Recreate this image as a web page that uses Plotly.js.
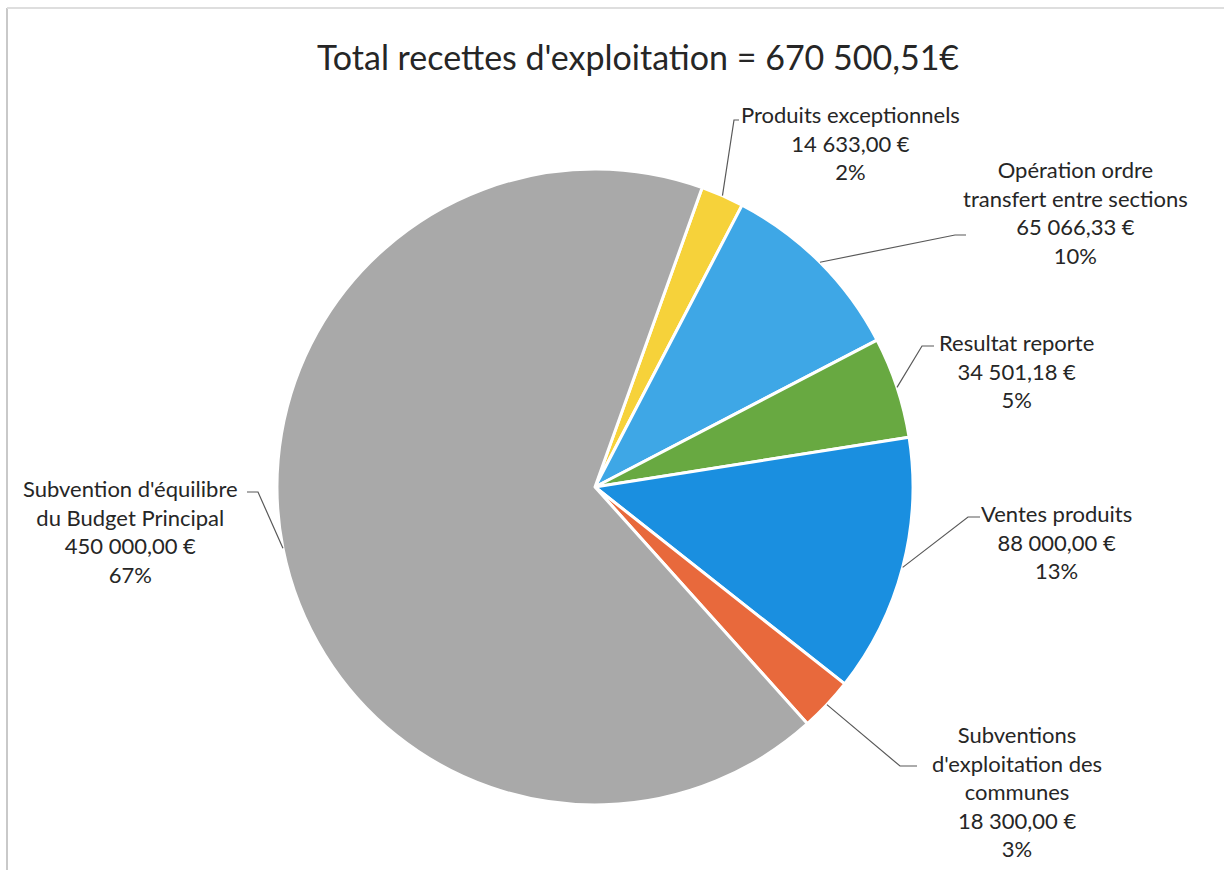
<!DOCTYPE html>
<html><head><meta charset="utf-8">
<script src="https://cdn.plot.ly/plotly-3.0.1.min.js"></script>
<style>html,body{margin:0;padding:0;background:#fff}</style>
</head><body><div id="chart" style="width:1224px;height:870px"></div>
<script>
// ---- data ----
const categories = [
  "Produits exceptionnels",
  "Opération ordre transfert entre sections",
  "Resultat reporte",
  "Ventes produits",
  "Subventions d'exploitation des communes",
  "Subvention d'équilibre du Budget Principal"
];
const categoryLabelLines = [
  ["Produits exceptionnels"],
  ["Opération ordre", "transfert entre sections"],
  ["Resultat reporte"],
  ["Ventes produits"],
  ["Subventions", "d'exploitation des", "communes"],
  ["Subvention d'équilibre", "du Budget Principal"]
];
const amounts = [14633.00, 65066.33, 34501.18, 88000.00, 18300.00, 450000.00];
const titleText = "Total recettes d'exploitation = 670 500,51€";

// ---- styles / layout ----
const sliceColors = ["#f6d23a", "#3ea7e6", "#68a941", "#1a8fe0", "#e8693c", "#a9a9a9"];
const W = 1224, H = 870;
const CX = 595, CY = 487, R = 318;
const ROTATION = 19.7;
const FONT = "Lato, 'Open Sans', sans-serif";
// label placement: text centre (px), elbow point (px), line end (px)
const labelPlacement = [
  {tx: 850,  ty: 143, ex: 734, ey: 120, fx: 739, fy: 120},
  {tx: 1075, ty: 213, ex: 955, ey: 235, fx: 966, fy: 235},
  {tx: 1016, ty: 371, ex: 922, ey: 346, fx: 934, fy: 346},
  {tx: 1056, ty: 542, ex: 968, ey: 517, fx: 980, fy: 517},
  {tx: 1017, ty: 791, ex: 900, ey: 766, fx: 917, fy: 766},
  {tx: 130,  ty: 531, ex: 258, ey: 492, fx: 247, fy: 492}
];

const px = x => x / W;
const py = y => 1 - y / H;

const total = amounts.reduce((a, b) => a + b, 0);
function fmtEuro(v) {
  const parts = v.toFixed(2).split(".");
  const intPart = parts[0].replace(/\B(?=(\d{3})+(?!\d))/g, " ");
  return intPart + "," + parts[1] + " €";
}
const percentLabels = amounts.map(v => Math.round(v / total * 100) + "%");

const trace = {
  type: "pie",
  labels: categories,
  values: amounts,
  sort: false,
  direction: "clockwise",
  rotation: ROTATION,
  textinfo: "none",
  hoverinfo: "label+value+percent",
  marker: {colors: sliceColors, line: {color: "#ffffff", width: 3}},
  domain: {x: [px(CX - R), px(CX + R)], y: [py(CY + R), py(CY - R)]},
  showlegend: false
};

const shapes = [
  {type: "line", xref: "paper", yref: "paper", x0: px(7), x1: px(7), y0: py(8), y1: py(870), line: {color: "#c9c9c9", width: 2}},
  {type: "line", xref: "paper", yref: "paper", x0: px(7), x1: px(1224), y0: py(8), y1: py(8), line: {color: "#dedede", width: 2}}
];
const annotations = [];
let cum = 0;
amounts.forEach((v, i) => {
  const mid = (ROTATION + (cum + v / 2) / total * 360) * Math.PI / 180;
  cum += v;
  const ax = CX + R * Math.sin(mid);
  const ay = CY - R * Math.cos(mid);
  const p = labelPlacement[i];
  shapes.push({
    type: "path", xref: "paper", yref: "paper",
    path: `M ${px(ax)},${py(ay)} L ${px(p.ex)},${py(p.ey)} L ${px(p.fx)},${py(p.fy)}`,
    line: {color: "#595959", width: 1.2}
  });
  const lines = categoryLabelLines[i].concat([fmtEuro(v), percentLabels[i]]);
  annotations.push({
    xref: "paper", yref: "paper", x: px(p.tx), y: py(p.ty),
    xanchor: "center", yanchor: "middle", showarrow: false, align: "center",
    text: lines.join("<br>"),
    font: {family: FONT, size: 22, color: "#262626"}
  });
});

const layout = {
  width: W, height: H,
  margin: {l: 0, r: 0, t: 0, b: 0},
  paper_bgcolor: "#ffffff",
  title: {text: titleText, x: px(638), xanchor: "center", y: py(58), yanchor: "middle", xref: "paper", yref: "paper",
          font: {family: FONT, size: 34, color: "#262626"}},
  shapes: shapes,
  annotations: annotations
};

Plotly.newPlot("chart", [trace], layout, {displayModeBar: false, staticPlot: true});
</script>
</body></html>
